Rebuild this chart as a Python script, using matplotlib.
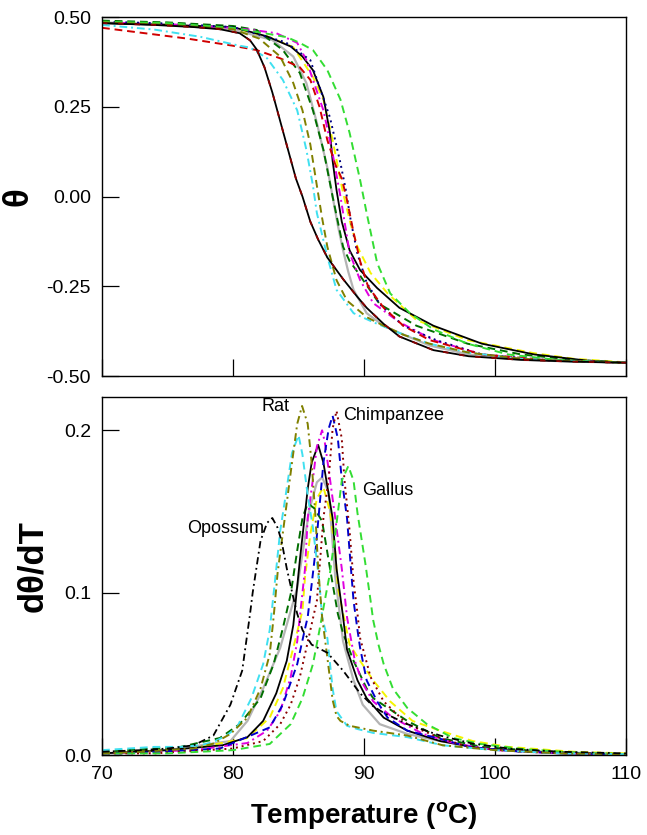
import matplotlib
matplotlib.use("Agg")
import matplotlib.pyplot as plt

plt.rcParams['font.family'] = ['Liberation Sans', 'DejaVu Sans']
plt.rcParams['mathtext.fontset'] = 'custom'
plt.rcParams['mathtext.rm'] = 'Liberation Sans'
plt.rcParams['mathtext.bf'] = 'Liberation Sans:bold'

# ---------------- top panel: theta vs temperature ----------------
top_opossum_t = [70, 74, 77, 79, 80.5, 81.3, 81.8, 82.4, 83.0, 83.6, 84.2, 84.8, 85.3, 85.9, 86.5,
                 87.2, 87.8, 88.4, 89.5, 90.2, 91.5, 92.7, 95.3, 98, 102, 106, 110]
top_opossum_y = [0.483, 0.478, 0.472, 0.466, 0.455, 0.435, 0.41, 0.36, 0.29, 0.21, 0.13, 0.05, 0.0,
                 -0.07, -0.12, -0.17, -0.20, -0.23, -0.28, -0.31, -0.355, -0.39, -0.428, -0.445,
                 -0.455, -0.46, -0.463]

top_black_t = [70, 75, 80, 82.6, 84.4, 85.3, 86.1, 86.9, 87.4, 87.6, 87.9, 88.3, 88.9, 89.7, 91,
               92.7, 95.3, 99, 103, 107, 110]
top_black_y = [0.483, 0.478, 0.472, 0.446, 0.418, 0.39, 0.352, 0.277, 0.177, 0.10, 0.018, -0.07,
               -0.15, -0.205, -0.255, -0.31, -0.36, -0.41, -0.44, -0.457, -0.463]

top_red_t = [70, 76.5, 80, 81.8, 83.6, 85.1, 85.9, 86.6, 87.2, 87.8, 88.3, 88.7, 89.2, 89.7, 90.3,
             91.5, 93, 95, 99, 104, 110]
top_red_y = [0.47, 0.44, 0.42, 0.408, 0.385, 0.36, 0.325, 0.25, 0.157, 0.09, 0.05, -0.01, -0.10,
             -0.18, -0.25, -0.31, -0.36, -0.40, -0.44, -0.456, -0.463]

top_cyan_t = [70, 74, 77.5, 80.5, 81.3, 82.6, 83.8, 84.9, 85.6, 86.1, 86.4, 87.2, 87.9, 89.2, 90.7,
              92.7, 95, 98, 102, 106, 110]
top_cyan_y = [0.478, 0.465, 0.445, 0.42, 0.415, 0.385, 0.325, 0.24, 0.13, 0.03, -0.046, -0.168,
              -0.26, -0.325, -0.35, -0.38, -0.41, -0.435, -0.452, -0.459, -0.463]

top_rat_t = [70, 75, 80, 82, 83.6, 84.6, 85.3, 85.9, 86.4, 86.8, 87.2, 87.9, 88.7, 90.2, 91.5, 93,
             95, 98, 102, 106, 110]
top_rat_y = [0.485, 0.478, 0.466, 0.44, 0.39, 0.316, 0.24, 0.145, 0.03, -0.06, -0.14, -0.233,
             -0.29, -0.336, -0.36, -0.385, -0.41, -0.435, -0.452, -0.459, -0.463]

top_dkgreen_t = [70, 75, 80, 81.8, 83.8, 85.1, 86.1, 86.9, 87.6, 88.4, 88.9, 89.5, 91.2, 94, 97.9,
                 102, 106, 110]
top_dkgreen_y = [0.49, 0.485, 0.475, 0.464, 0.408, 0.344, 0.24, 0.13, 0.0, -0.14, -0.18, -0.21,
                 -0.30, -0.36, -0.41, -0.44, -0.455, -0.463]

top_gray_t = [70, 75, 80, 83, 84.6, 85.6, 86.4, 87.2, 87.6, 88.0, 88.4, 88.8, 89.2, 90.2, 91.5,
              92.7, 95, 98, 102, 106, 110]
top_gray_y = [0.485, 0.48, 0.465, 0.436, 0.39, 0.316, 0.205, 0.08, 0.0, -0.08, -0.15, -0.21,
              -0.26, -0.325, -0.36, -0.38, -0.415, -0.44, -0.455, -0.46, -0.463]

top_magenta_t = [70, 75, 80, 81.5, 83.3, 84.9, 85.6, 86.1, 86.9, 87.6, 88.2, 88.9, 89.7, 90.7,
                 92.7, 95.3, 99, 104, 110]
top_magenta_y = [0.485, 0.48, 0.47, 0.464, 0.455, 0.428, 0.38, 0.325, 0.24, 0.12, 0.0, -0.157,
                 -0.233, -0.297, -0.35, -0.40, -0.44, -0.456, -0.463]

top_yellow_t = [70, 75, 80, 82.8, 84.6, 86.1, 86.9, 87.6, 88.4, 89.0, 89.5, 90.5, 91.8, 94, 97.9,
                102.9, 106, 110]
top_yellow_y = [0.485, 0.48, 0.47, 0.444, 0.416, 0.333, 0.27, 0.157, 0.01, -0.08, -0.14, -0.213,
                -0.27, -0.344, -0.40, -0.436, -0.452, -0.462]

top_navy_t = [70, 75, 80, 84, 85.9, 86.6, 87.4, 88.2, 88.6, 89.0, 89.5, 90.2, 91.2, 93, 95.5, 99,
              104, 110]
top_navy_y = [0.487, 0.482, 0.472, 0.43, 0.38, 0.305, 0.22, 0.093, 0.02, -0.07, -0.16, -0.24,
              -0.30, -0.36, -0.40, -0.44, -0.456, -0.463]

top_gallus_t = [70, 75, 80, 84.1, 85.1, 86.1, 87.2, 88.2, 88.9, 89.7, 90.2, 91, 92, 93.5, 95.3,
                97.9, 101, 105, 110]
top_gallus_y = [0.487, 0.483, 0.47, 0.444, 0.428, 0.408, 0.352, 0.27, 0.177, 0.046, -0.046,
                -0.185, -0.27, -0.325, -0.37, -0.41, -0.44, -0.456, -0.463]

# ---------------- bottom panel: d(theta)/dT ----------------
bot_opossum_t = [70, 73, 75, 77, 78.5, 79.8, 80.7, 81.3, 81.5, 82.1, 82.6, 83.0, 83.4, 83.7, 84.1,
                 84.6, 84.9, 85.3, 86.0, 87.2, 88.4, 89.7, 90.7, 91.5, 93.3, 95.8, 98.3, 101, 105,
                 110]
bot_opossum_y = [0.002, 0.003, 0.004, 0.006, 0.012, 0.031, 0.052, 0.087, 0.10, 0.132, 0.143,
                 0.146, 0.14, 0.132, 0.115, 0.097, 0.087, 0.077, 0.068, 0.063, 0.052, 0.038, 0.03,
                 0.026, 0.019, 0.012, 0.007, 0.004, 0.002, 0.001]

bot_rat_t = [70, 73, 75, 77, 78.5, 79.8, 81.1, 82.1, 82.8, 83.1, 83.4, 84.0, 84.5, 84.9, 85.27,
             85.7, 86.0, 86.3, 86.5, 86.8, 87.2, 87.6, 87.9, 88.2, 88.9, 90.7, 93.3, 96, 100,
             105, 110]
bot_rat_y = [0.001, 0.002, 0.003, 0.004, 0.007, 0.013, 0.023, 0.041, 0.062, 0.085, 0.112, 0.149,
             0.18, 0.204, 0.215, 0.204, 0.18, 0.146, 0.115, 0.085, 0.06, 0.034, 0.024, 0.021,
             0.018, 0.015, 0.012, 0.006, 0.003, 0.001, 0.0005]

bot_cyan_t = [70, 72, 74, 76, 77.5, 78.5, 79.5, 80.3, 81.4, 82.3, 82.8, 83.2, 83.6, 84.0, 84.5,
              85.0, 85.3, 85.7, 86.1, 86.6, 86.8, 87.2, 87.6, 87.9, 88.7, 89.5, 90.7, 93.3, 96,
              100, 105, 110]
bot_cyan_y = [0.003, 0.004, 0.005, 0.005, 0.006, 0.008, 0.012, 0.017, 0.035, 0.056, 0.077, 0.107,
              0.138, 0.159, 0.186, 0.197, 0.185, 0.16, 0.14, 0.105, 0.085, 0.072, 0.041, 0.027,
              0.018, 0.016, 0.0136, 0.011, 0.006, 0.003, 0.001, 0.0005]

bot_black_t = [70, 75, 79.2, 81.1, 82.3, 83.3, 84.1, 84.6, 85.1, 85.5, 85.7, 86.0, 86.5, 86.9,
               87.6, 87.9, 88.4, 88.7, 89.5, 90.2, 91.5, 93.3, 95.8, 99, 105, 110]
bot_black_y = [0.001, 0.003, 0.006, 0.011, 0.021, 0.038, 0.058, 0.08, 0.12, 0.149, 0.164, 0.18,
               0.191, 0.18, 0.146, 0.115, 0.085, 0.065, 0.046, 0.035, 0.023, 0.015, 0.0086,
               0.004, 0.001, 0.0005]

bot_magenta_t = [70, 77, 81.1, 82.6, 83.6, 84.4, 84.9, 85.1, 85.5, 85.7, 86.1, 86.4, 86.8, 87.0,
                 87.4, 87.8, 88.3, 88.7, 89.3, 89.9, 90.7, 92.2, 94.5, 97, 100, 105, 110]
bot_magenta_y = [0.001, 0.003, 0.0074, 0.015, 0.027, 0.048, 0.07, 0.085, 0.115, 0.146, 0.17,
                 0.19, 0.2, 0.193, 0.17, 0.146, 0.115, 0.085, 0.058, 0.044, 0.033, 0.023, 0.013,
                 0.007, 0.003, 0.001, 0.0005]

bot_gray_t = [70, 75, 79.8, 81.1, 82.3, 83.6, 84.9, 85.8, 86.4, 86.8, 87.3, 87.8, 88.4, 89.2,
              89.9, 91.2, 93.3, 95.8, 99, 105, 110]
bot_gray_y = [0.001, 0.003, 0.0086, 0.021, 0.041, 0.066, 0.103, 0.15, 0.168, 0.171, 0.162, 0.11,
              0.07, 0.046, 0.031, 0.019, 0.013, 0.0086, 0.004, 0.001, 0.0005]

bot_dkgreen_t = [70, 76, 79, 80.5, 82.1, 83.1, 83.8, 84.4, 84.9, 85.3, 85.7, 86.2, 86.8, 87.4,
                 88.0, 88.4, 89.2, 90.2, 90.7, 93.3, 95.8, 99, 104, 110]
bot_dkgreen_y = [0.002, 0.005, 0.0105, 0.019, 0.035, 0.056, 0.078, 0.099, 0.126, 0.146, 0.155,
                 0.152, 0.144, 0.115, 0.087, 0.075, 0.058, 0.041, 0.035, 0.021, 0.0105, 0.005,
                 0.002, 0.0005]

bot_yellow_t = [70, 77, 81.1, 82.8, 83.8, 84.6, 85.3, 85.5, 85.9, 86.4, 86.9, 87.4, 87.8, 88.0,
                88.9, 89.7, 90.7, 92.0, 93.7, 95.8, 98.3, 101, 106, 110]
bot_yellow_y = [0.001, 0.004, 0.0105, 0.023, 0.041, 0.066, 0.089, 0.11, 0.136, 0.158, 0.165,
                0.15, 0.126, 0.103, 0.068, 0.058, 0.046, 0.033, 0.021, 0.015, 0.0086, 0.005,
                0.002, 0.001]

bot_blue_t = [70, 72, 79, 82.8, 83.8, 84.9, 85.5, 85.7, 86.0, 86.3, 86.9, 87.3, 87.6, 88.0, 88.3,
              88.7, 89.0, 89.2, 89.5, 89.7, 90.2, 91.0, 91.8, 93.3, 95.8, 98, 102, 106, 110]
bot_blue_y = [0.001, 0.001, 0.004, 0.017, 0.031, 0.056, 0.078, 0.085, 0.105, 0.126, 0.18, 0.201,
              0.209, 0.195, 0.17, 0.146, 0.115, 0.095, 0.077, 0.066, 0.046, 0.033, 0.023, 0.015,
              0.01, 0.005, 0.002, 0.001, 0.0005]

bot_chimp_t = [70, 74, 80, 82.3, 83.6, 84.4, 85.1, 85.6, 86.4, 86.6, 86.9, 87.3, 87.6, 87.9, 88.3,
               88.5, 88.9, 89.2, 89.5, 89.7, 90.5, 91.5, 93.3, 95.8, 98, 102, 106, 110]
bot_chimp_y = [0.001, 0.001, 0.004, 0.0086, 0.019, 0.031, 0.048, 0.066, 0.095, 0.115, 0.146, 0.17,
               0.201, 0.212, 0.195, 0.17, 0.138, 0.107, 0.087, 0.072, 0.048, 0.033, 0.019,
               0.0105, 0.005, 0.002, 0.001, 0.0005]

bot_gallus_t = [70, 75, 80, 82.8, 84.4, 85.3, 86.1, 86.6, 87.0, 87.4, 87.7, 88.0, 88.3, 88.8,
                89.2, 89.5, 90.1, 90.5, 90.7, 91.1, 91.5, 92.2, 93.3, 94.8, 96.8, 98.9, 102.1,
                106, 110]
bot_gallus_y = [0.001, 0.001, 0.003, 0.0068, 0.019, 0.035, 0.056, 0.077, 0.095, 0.112, 0.13,
                0.149, 0.169, 0.178, 0.169, 0.149, 0.118, 0.095, 0.083, 0.068, 0.056, 0.041,
                0.029, 0.019, 0.0105, 0.0068, 0.0037, 0.0015, 0.0005]

# species labels in the lower panel
label_names = ["Rat", "Chimpanzee", "Gallus", "Opossum"]
label_t = [82.2, 88.4, 89.85, 76.5]
label_y = [0.2148, 0.209, 0.163, 0.1395]

x_ticks = [70, 80, 90, 100, 110]
top_ticks = [-0.5, -0.25, 0.0, 0.25, 0.5]
top_tick_labels = ["-0.50", "-0.25", "0.00", "0.25", "0.50"]
bot_ticks = [0.0, 0.1, 0.2]
bot_tick_labels = ["0.0", "0.1", "0.2"]

DASH = (0, (4, 2.5))
DASHDOT = (0, (4, 2, 1, 2))
DOT = (0, (1, 2))

fig = plt.figure(figsize=(6.47, 8.35), dpi=100)
ax1 = fig.add_axes([0.1577, 0.5497, 0.8099, 0.4299])
ax2 = fig.add_axes([0.1577, 0.0958, 0.8099, 0.4287])

lw = 1.4
# top curves
ax1.plot(top_gray_t, top_gray_y, color="#b4b4b4", lw=1.6, ls="-")
ax1.plot(top_yellow_t, top_yellow_y, color="#f4f400", lw=lw, ls=DASH)
ax1.plot(top_dkgreen_t, top_dkgreen_y, color="#006e00", lw=lw, ls=DASH)
ax1.plot(top_black_t, top_black_y, color="black", lw=1.3, ls="-")
ax1.plot(top_magenta_t, top_magenta_y, color="#e000e0", lw=lw, ls=DASHDOT)
ax1.plot(top_navy_t, top_navy_y, color="#000080", lw=lw, ls=DOT)
ax1.plot(top_red_t, top_red_y, color="#d00000", lw=lw, ls=DASH)
ax1.plot(top_gallus_t, top_gallus_y, color="#33dd33", lw=lw, ls=DASH)
ax1.plot(top_cyan_t, top_cyan_y, color="#40e0f0", lw=lw, ls=DASHDOT)
ax1.plot(top_rat_t, top_rat_y, color="#808000", lw=lw, ls=DASH)
ax1.plot(top_opossum_t, top_opossum_y, color="black", lw=1.3, ls="-")
ax1.plot(top_opossum_t, top_opossum_y, color="#8b0000", lw=1.3, ls=(0, (3, 6)))

# bottom curves
ax2.plot(bot_gray_t, bot_gray_y, color="#b4b4b4", lw=1.6, ls="-")
ax2.plot(bot_yellow_t, bot_yellow_y, color="#f4f400", lw=lw, ls=DASH)
ax2.plot(bot_dkgreen_t, bot_dkgreen_y, color="#006e00", lw=lw, ls=DASH)
ax2.plot(bot_black_t, bot_black_y, color="black", lw=1.3, ls="-")
ax2.plot(bot_magenta_t, bot_magenta_y, color="#e000e0", lw=lw, ls=DASHDOT)
ax2.plot(bot_blue_t, bot_blue_y, color="#0000cc", lw=lw, ls=DASH)
ax2.plot(bot_chimp_t, bot_chimp_y, color="#8b0000", lw=lw, ls=DOT)
ax2.plot(bot_gallus_t, bot_gallus_y, color="#33dd33", lw=lw, ls=DASH)
ax2.plot(bot_cyan_t, bot_cyan_y, color="#40e0f0", lw=lw, ls=DASH)
ax2.plot(bot_rat_t, bot_rat_y, color="#808000", lw=lw, ls=DASHDOT)
ax2.plot(bot_opossum_t, bot_opossum_y, color="black", lw=1.3, ls=DASHDOT)

for name, t, y in zip(label_names, label_t, label_y):
    ax2.text(t, y, name, fontsize=13, ha="left", va="center")

for ax in (ax1, ax2):
    ax.set_xlim(70, 110)
    ax.set_xticks(x_ticks)
    ax.tick_params(direction="in", length=12, width=0.9, labelsize=14, pad=8,
                   top=False, right=False)
    for sp in ax.spines.values():
        sp.set_linewidth(1.0)

ax1.set_ylim(-0.5, 0.5)
ax1.set_yticks(top_ticks)
ax1.set_yticklabels(top_tick_labels)
ax1.tick_params(axis="x", labelbottom=False)

ax2.set_ylim(0, 0.2205)
ax2.set_yticks(bot_ticks)
ax2.set_yticklabels(bot_tick_labels)
ax2.set_xticklabels([str(v) for v in x_ticks])

# axis titles placed in figure coordinates
fig.text(0.028, 0.764, "θ", fontsize=25, fontweight="bold", rotation=90,
         ha="center", va="center")
fig.text(0.051, 0.322, "dθ/dT", fontsize=25, fontweight="bold", rotation=90,
         ha="center", va="center")
fig.text(0.5627, 0.023, r"Temperature ($\mathbf{^o}$C)", fontsize=20, fontweight="bold",
         ha="center", va="center")

fig.savefig("out.png", dpi=100)
